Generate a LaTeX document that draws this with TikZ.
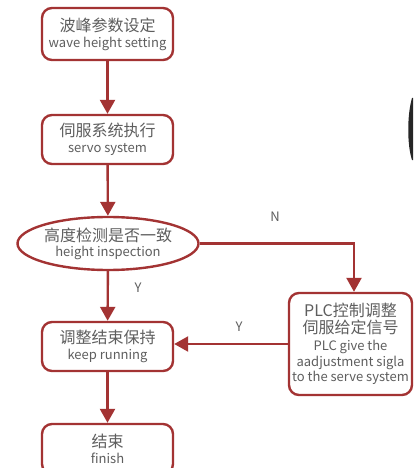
\documentclass[tikz,border=0pt]{standalone}
\usepackage{fontspec}
\setmainfont{Noto Sans CJK SC}
\usetikzlibrary{arrows.meta,shapes.geometric}
\definecolor{frame}{HTML}{A33333}
\definecolor{txt}{HTML}{5E5E5E}
\tikzset{
  box/.style={draw=frame,line width=2.4pt,rounded corners=10pt,fill=white,text=txt,align=center,inner sep=0pt},
  oval/.style={draw=frame,line width=2.4pt,ellipse,fill=white,text=txt,align=center,inner sep=0pt},
  conn/.style={draw=frame,line width=2.4pt,-{Triangle[width=15pt,length=14pt]}},
  lbl/.style={text=txt,font=\fontsize{13pt}{15pt}\selectfont},
}
\newcommand{\cnf}{\fontsize{16pt}{18pt}\selectfont}
\newcommand{\enf}{\fontsize{13pt}{16pt}\selectfont}
\begin{document}
\begin{tikzpicture}[x=1pt,y=-1pt]
\useasboundingbox (0,0) rectangle (413,468);
\begin{scope}
\clip (0,0) rectangle (413,468);
\fill[black!85] (412,98) .. controls (407,115) and (407,145) .. (412,160) -- (420,160) -- (420,98) -- cycle;
\node[box,minimum width=131pt,minimum height=52pt] (a) at (107.5,34) {\cnf 波峰参数设定\\[4pt]\enf wave height setting};
\node[box,minimum width=131pt,minimum height=49pt] (b) at (107.5,139.5) {\cnf 伺服系统执行\\[4pt]\enf servo system};
\node[oval,minimum width=176pt,minimum height=53pt] (c) at (108,243.5) {\cnf 高度检测是否一致\\[3pt]\enf height inspection};
\node[box,minimum width=131pt,minimum height=49pt] (d) at (107.5,346.5) {\cnf 调整结束保持\\[4pt]\enf keep running};
\node[box,minimum width=131pt,minimum height=50pt] (e) at (107.5,449) {\cnf 结束\\[4pt]\enf finish};
\node[box,minimum width=123pt,minimum height=102pt] (p) at (350.5,344) {\cnf PLC控制调整\\[1pt]\cnf 伺服给定信号\\[5pt]\enf PLC give the\\[1pt]\enf aadjustment sigla\\[1pt]\enf to the serve system};
\end{scope}
\coordinate (k) at (354,243.5);
\draw[conn] (a) -- (b);
\draw[conn] (b) -- (c);
\draw[conn] (c) -- (d);
\draw[conn] (d) -- (e);
\draw[conn] (c.east) -- (k) -- (k |- p.north);
\draw[conn] (p.west) -- (d.east |- p.west);
\node[lbl] (n) at (275,217) {N};
\node[lbl] (y1) at (138,288) {Y};
\node[lbl] (y2) at (239,327) {Y};
\end{tikzpicture}
\end{document}
